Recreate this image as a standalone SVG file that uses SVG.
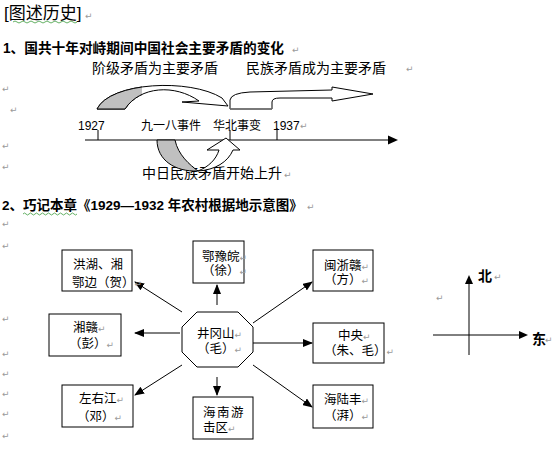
<svg xmlns="http://www.w3.org/2000/svg" width="553" height="453" viewBox="0 0 553 453">
<defs>
<style>
text{font-family:"Liberation Sans","Noto Sans CJK SC",sans-serif;fill:#000}
.h{font-size:14px;font-weight:bold}
.t{font-size:14px}
.s{font-size:12px}
.n{font-size:12.5px}
.pm{font-family:"DejaVu Sans",sans-serif;font-size:9px;fill:#9a9a9a}
.box{fill:#fff;stroke:#000;stroke-width:1}
.ln{stroke:#000;stroke-width:1;fill:none}
.sq{fill:none;stroke:#3c9c3c;stroke-width:0.8}
</style>
<marker id="ah" markerUnits="userSpaceOnUse" markerWidth="10" markerHeight="8" refX="9" refY="4" orient="auto">
<path d="M0,0 L10,4 L0,8 Z" fill="#000"/>
</marker>
<clipPath id="cg1"><rect x="90" y="70" width="52" height="45"/></clipPath>
</defs>

<g id="headings">
<text x="4" y="19" style="font-size:17px">[图述历史]</text>
<path class="sq" d="M13,22 q2,-2 4,0 t4,0 t4,0 t4,0 t4,0 t4,0 t4,0 t4,0 t4,0 t4,0 t4,0 t4,0 t4,0 t4,0 t4,0 t4,0"/>
<text class="pm" x="85" y="19">↵</text>
<text class="h" x="3" y="53" textLength="281" lengthAdjust="spacingAndGlyphs">1、国共十年对峙期间中国社会主要矛盾的变化</text>
<text class="pm" x="292" y="53">↵</text>
<text class="h" x="2" y="210" style="font-size:13.5px">2、巧记本章《1929—1932 年农村根据地示意图》</text>
<path class="sq" d="M23,214 q1.5,-2 3,0 t3,0 t3,0 t3,0 t3,0 t3,0 t3,0 t3,0 t3,0 t3,0 t3,0 t3,0 t3,0 t3,0 t3,0 t3,0 t3,0 t3,0"/>
<text class="pm" x="307" y="210">↵</text>
</g>

<g id="margin-marks">
<text class="pm" x="2" y="92">↵</text>
<text class="pm" x="10" y="113">↵</text>
<text class="pm" x="2" y="149">↵</text>
<text class="pm" x="2" y="170">↵</text>
<text class="pm" x="2" y="227">↵</text>
<text class="pm" x="2" y="249">↵</text>
<text class="pm" x="2" y="322">↵</text>
<text class="pm" x="2" y="357">↵</text>
<text class="pm" x="2" y="377">↵</text>
<text class="pm" x="2" y="397">↵</text>
<text class="pm" x="2" y="417">↵</text>
<text class="pm" x="2" y="439">↵</text>
</g>

<g id="timeline">
<text class="t" x="92" y="73">阶级矛盾为主要矛盾</text>
<text class="t" x="246" y="73">民族矛盾成为主要矛盾</text>
<text class="pm" x="406" y="72">↵</text>
<line class="ln" x1="85" y1="140" x2="390" y2="140"/>
<path d="M388,135.5 L398,140 L388,144.5 Z" fill="#000"/>
<line class="ln" x1="98" y1="130" x2="98" y2="140"/>
<line class="ln" x1="230" y1="130" x2="230" y2="140"/>
<line class="ln" x1="277" y1="128" x2="277" y2="140"/>
<text class="s" x="78" y="130">1927</text>
<text class="s" x="141" y="130">九一八事件</text>
<text class="s" x="213" y="130">华北事变</text>
<text class="s" x="273" y="130">1937</text>
<text class="pm" x="300" y="129">↵</text>
<text class="t" x="142" y="178">中日民族矛盾开始上升</text>
<text class="pm" x="284" y="178">↵</text>
</g>

<g id="arrow-upper-curve">
<path d="M97,109 C110,82 190,78 222,98 L228,106 L182,102 L199,101 C175,84 140,86 125,109 Z" fill="#fff" stroke="#000" stroke-width="1"/>
<path d="M97,109 C110,82 190,78 222,98 L228,106 L182,102 L199,101 C175,84 140,86 125,109 Z" fill="#c0c0c0" stroke="#000" stroke-width="1" clip-path="url(#cg1)"/>
</g>
<g id="arrow-upper-straight">
<path d="M230,100 Q231,93 250,92 L332,90 L332,87 L373,94 L332,101 L332,98 L280,98 Q272,98 272,102 L272,109 L230,109 Z" fill="#fff" stroke="#000" stroke-width="1"/>
<line x1="230" y1="109" x2="272" y2="109" stroke="#777" stroke-width="1.5"/>
</g>
<g id="arrow-lower">
<path d="M157,140 C157,160 175,172 198,171 C190,165 178,155 175,140 Z" fill="#c0c0c0" stroke="#000" stroke-width="1"/>
<path d="M198,171 C215,170 228,162 233,150 L240,150 L226,138 L207,150 L219,150 C216,160 208,167 198,171 Z" fill="#fff" stroke="#000" stroke-width="1"/>
</g>

<g id="connectors">
<line class="ln" x1="182" y1="312" x2="135" y2="282" marker-end="url(#ah)"/>
<line class="ln" x1="217" y1="305" x2="217" y2="285" marker-end="url(#ah)"/>
<line class="ln" x1="253" y1="323" x2="312" y2="282" marker-end="url(#ah)"/>
<line class="ln" x1="180" y1="333" x2="135" y2="333" marker-end="url(#ah)"/>
<line class="ln" x1="253" y1="343" x2="312" y2="343" marker-end="url(#ah)"/>
<line class="ln" x1="182" y1="365" x2="135" y2="395" marker-end="url(#ah)"/>
<line class="ln" x1="217" y1="377" x2="217" y2="395" marker-end="url(#ah)"/>
<line class="ln" x1="253" y1="365" x2="312" y2="407" marker-end="url(#ah)"/>
</g>

<g id="node-jinggangshan">
<polygon class="box" points="197,312 238,312 253,327 253,352 238,367 197,367 182,352 182,327"/>
<text class="n" x="197" y="338">井冈山<tspan class="pm">↵</tspan></text>
<text class="n" x="197" y="353">（毛）<tspan class="pm">↵</tspan></text>
</g>
<g id="node-honghu">
<rect class="box" x="62" y="250" width="70" height="41"/>
<text class="n" x="73" y="269">洪湖、湘</text>
<text class="n" x="72" y="287">鄂边（贺）<tspan class="pm">↵</tspan></text>
</g>
<g id="node-eyuwan">
<rect class="box" x="193" y="241" width="51" height="42"/>
<text class="n" x="202" y="261">鄂豫皖<tspan class="pm">↵</tspan></text>
<text class="n" x="202" y="275">（徐）<tspan class="pm">↵</tspan></text>
</g>
<g id="node-minzhegan">
<rect class="box" x="313" y="250" width="60" height="41"/>
<text class="n" x="324" y="270">闽浙赣<tspan class="pm">↵</tspan></text>
<text class="n" x="324" y="284">（方）<tspan class="pm">↵</tspan></text>
</g>
<g id="node-xianggan">
<rect class="box" x="49" y="314" width="72" height="42"/>
<text class="n" x="73" y="332">湘赣<tspan class="pm">↵</tspan></text>
<text class="n" x="69" y="348">（彭）<tspan class="pm">↵</tspan></text>
</g>
<g id="node-zhongyang">
<rect class="box" x="313" y="323" width="71" height="40"/>
<text class="n" x="338" y="340">中央<tspan class="pm">↵</tspan></text>
<text class="n" x="324" y="355">（朱、毛）<tspan class="pm">↵</tspan></text>
</g>
<g id="node-zuoyoujiang">
<rect class="box" x="62" y="385" width="71" height="42"/>
<text class="n" x="79" y="403">左右江<tspan class="pm">↵</tspan></text>
<text class="n" x="77" y="421">（邓）<tspan class="pm">↵</tspan></text>
</g>
<g id="node-hainan">
<rect class="box" x="193" y="397" width="60" height="42"/>
<text class="n" x="203" y="417" letter-spacing="1.5">海南游</text>
<text class="n" x="203" y="432">击区<tspan class="pm">↵</tspan></text>
</g>
<g id="node-hailufeng">
<rect class="box" x="313" y="385" width="60" height="43"/>
<text class="n" x="324" y="404">海陆丰<tspan class="pm">↵</tspan></text>
<text class="n" x="324" y="420">（湃）<tspan class="pm">↵</tspan></text>
</g>

<g id="compass">
<line class="ln" x1="469" y1="283" x2="469" y2="355"/>
<path d="M465,284 L469,275 L473,284 Z" fill="#000"/>
<line class="ln" x1="433" y1="335" x2="520" y2="335"/>
<path d="M519,331 L528,335 L519,339 Z" fill="#000"/>
<text x="478" y="281" style="font-size:14px;font-weight:bold">北</text>
<text class="pm" x="494" y="280">↵</text>
<text class="pm" x="436" y="301">↵</text>
<text x="532" y="344" style="font-size:14px;font-weight:bold">东</text>
<text class="pm" x="545" y="343">↵</text>
</g>
</svg>
